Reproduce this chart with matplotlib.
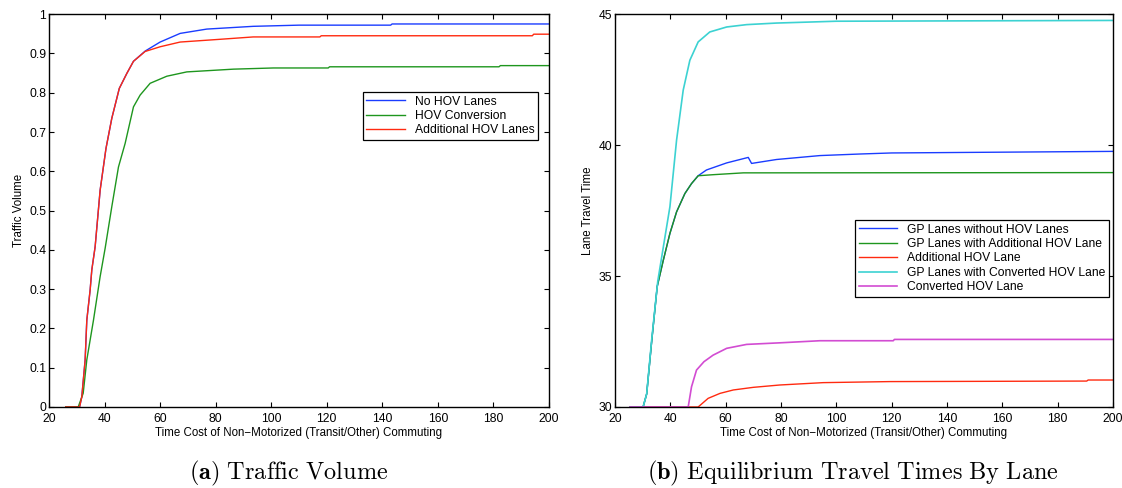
import matplotlib
matplotlib.use("Agg")
import matplotlib.pyplot as plt

plt.rcParams['font.family'] = ['Liberation Sans', 'DejaVu Sans']
plt.rcParams['mathtext.fontset'] = 'cm'

# (a) traffic volume vs time cost
vol_x_none = [26, 31, 31.8, 33, 33.6, 34.8, 35.4, 36.6, 38.4, 40.5, 42.6, 45.3, 48.0, 50.4, 54.6,
              60, 67.2, 76.8, 93.5, 110, 143, 143.5, 200]
vol_none = [0, 0, 0.026, 0.12, 0.221, 0.298, 0.349, 0.408, 0.552, 0.658, 0.735, 0.811, 0.849, 0.880, 0.906,
            0.929, 0.951, 0.962, 0.969, 0.972, 0.972, 0.975, 0.975]

vol_x_conv = [26, 30.5, 32.3, 33.6, 36, 38.4, 40.2, 42.6, 45, 47.4, 50.4, 52.8, 56.4, 62.4, 69.6,
              86.4, 100.8, 120.5, 121, 182, 182.5, 200]
vol_conv = [0, 0, 0.035, 0.12, 0.221, 0.332, 0.404, 0.51, 0.611, 0.671, 0.764, 0.794, 0.824, 0.842, 0.853,
            0.86, 0.863, 0.863, 0.866, 0.866, 0.869, 0.869]

vol_x_add = [26, 31, 31.8, 33, 33.6, 34.8, 35.4, 36.6, 38.4, 40.5, 42.6, 45.3, 48.0, 50.4, 54.6,
             60, 67.2, 81.6, 93.5, 117.5, 118, 194, 194.5, 200]
vol_add = [0, 0, 0.026, 0.12, 0.221, 0.298, 0.349, 0.408, 0.552, 0.658, 0.735, 0.811, 0.849, 0.880, 0.905,
           0.917, 0.929, 0.936, 0.942, 0.942, 0.945, 0.945, 0.949, 0.949]

# (b) lane travel times
tt_x_gp_none = [25.5, 30.2, 31.5, 33.3, 35.3, 37.5, 39.9, 42.3, 45.3, 47.7, 50.1, 53.1, 60.4, 68.2,
                69.4, 78.4, 94.1, 108.6, 120, 200]
tt_gp_none = [30, 30, 30.5, 32.5, 34.6, 35.6, 36.63, 37.45, 38.15, 38.53, 38.83, 39.05, 39.32, 39.53,
              39.3, 39.45, 39.6, 39.66, 39.7, 39.76]

tt_x_gp_add = [25.5, 30.2, 31.5, 33.3, 35.3, 37.5, 39.9, 42.3, 45.3, 47.7, 50.1, 55.5, 66.4, 200]
tt_gp_add = [30, 30, 30.5, 32.5, 34.6, 35.6, 36.63, 37.45, 38.15, 38.53, 38.83, 38.87, 38.94, 38.95]

tt_x_hov_add = [25.5, 50.1, 53.7, 58, 62.8, 70, 79.6, 95.3, 119.4, 190.5, 191, 200]
tt_hov_add = [30, 30, 30.33, 30.52, 30.65, 30.75, 30.84, 30.93, 30.97, 30.99, 31.03, 31.03]

tt_x_gp_conv = [25.5, 30.2, 31.5, 33.3, 35.5, 37.5, 39.9, 42.3, 44.7, 47.1, 50.1, 54.3, 60.4, 67.6,
                78.4, 100, 200]
tt_gp_conv = [30, 30, 30.5, 32.56, 34.8, 36.1, 37.65, 40.19, 42.1, 43.24, 43.94, 44.32, 44.51, 44.6,
              44.66, 44.73, 44.76]

tt_x_hov_conv = [25.5, 46.5, 47.7, 49.5, 52.2, 55.5, 60.4, 67.6, 79.6, 94.1, 120.6, 121, 200]
tt_hov_conv = [30, 30, 30.77, 31.41, 31.73, 31.98, 32.24, 32.39, 32.45, 32.53, 32.53, 32.58, 32.58]

x_ticks = [20, 40, 60, 80, 100, 120, 140, 160, 180, 200]

BLUE = '#1a3cff'
GREEN = '#1e961e'
RED = '#ff2a10'
CYAN = '#3cd2d2'
MAGENTA = '#d24cd2'

fig = plt.figure(figsize=(11.22, 4.88), dpi=100)
ax1 = fig.add_axes([0.0437, 0.166, 0.4456, 0.805])
ax2 = fig.add_axes([0.548, 0.166, 0.444, 0.805])


def style_axes(ax):
    ax.tick_params(direction='in', top=True, right=True, labelsize=8.7, length=3.6, width=0.8, pad=2)
    ax.tick_params(axis='x', pad=4.5)
    for s in ax.spines.values():
        s.set_linewidth(1.0)
    ax.set_xlim(20, 200)
    ax.set_xticks(x_ticks)
    ax.set_xlabel('Time Cost of Non\u2212Motorized (Transit/Other) Commuting', fontsize=8.3, labelpad=1)


# left panel
ax1.plot(vol_x_none, vol_none, color=BLUE, lw=1.0, label='No HOV Lanes')
ax1.plot(vol_x_conv, vol_conv, color=GREEN, lw=1.0, label='HOV Conversion')
ax1.plot(vol_x_add, vol_add, color=RED, lw=1.0, label='Additional HOV Lanes')
style_axes(ax1)
ax1.set_ylim(0, 1)
ax1.set_yticks([0, 0.1, 0.2, 0.3, 0.4, 0.5, 0.6, 0.7, 0.8, 0.9, 1])
ax1.set_yticklabels(['0', '0.1', '0.2', '0.3', '0.4', '0.5', '0.6', '0.7', '0.8', '0.9', '1'])
ax1.set_ylabel('Traffic Volume', fontsize=8.3, labelpad=3)
leg1 = ax1.legend(loc='upper right', bbox_to_anchor=(0.978, 0.802), fontsize=8.7, frameon=True,
                  fancybox=False, edgecolor='black', framealpha=1, borderaxespad=0,
                  handlelength=3.2, labelspacing=0.2, borderpad=0.3)
leg1.get_frame().set_linewidth(0.9)

# right panel
ax2.plot(tt_x_gp_none, tt_gp_none, color=BLUE, lw=1.0, label='GP Lanes without HOV Lanes')
ax2.plot(tt_x_gp_add, tt_gp_add, color=GREEN, lw=1.0, label='GP Lanes with Additional HOV Lane')
ax2.plot(tt_x_hov_add, tt_hov_add, color=RED, lw=1.0, label='Additional HOV Lane')
ax2.plot(tt_x_gp_conv, tt_gp_conv, color=CYAN, lw=1.2, label='GP Lanes with Converted HOV Lane')
ax2.plot(tt_x_hov_conv, tt_hov_conv, color=MAGENTA, lw=1.2, label='Converted HOV Lane')
style_axes(ax2)
ax2.set_ylim(30, 45)
ax2.set_yticks([30, 35, 40, 45])
ax2.set_ylabel('Lane Travel Time', fontsize=8.3, labelpad=3)
leg2 = ax2.legend(loc='upper right', bbox_to_anchor=(0.992, 0.476), fontsize=8.7, frameon=True,
                  fancybox=False, edgecolor='black', framealpha=1, borderaxespad=0,
                  handlelength=3.2, labelspacing=0.2, borderpad=0.3)
leg2.get_frame().set_linewidth(0.9)

# captions
fig.text(0.2576, 0.017, r'$\mathbf{(a)}\ \mathrm{Traffic\ Volume}$', ha='center', va='baseline', fontsize=17.5)
fig.text(0.760, 0.017, r'$\mathbf{(b)}\ \mathrm{Equilibrium\ Travel\ Times\ By\ Lane}$',
         ha='center', va='baseline', fontsize=17.5)

fig.savefig('out.png', dpi=100)
